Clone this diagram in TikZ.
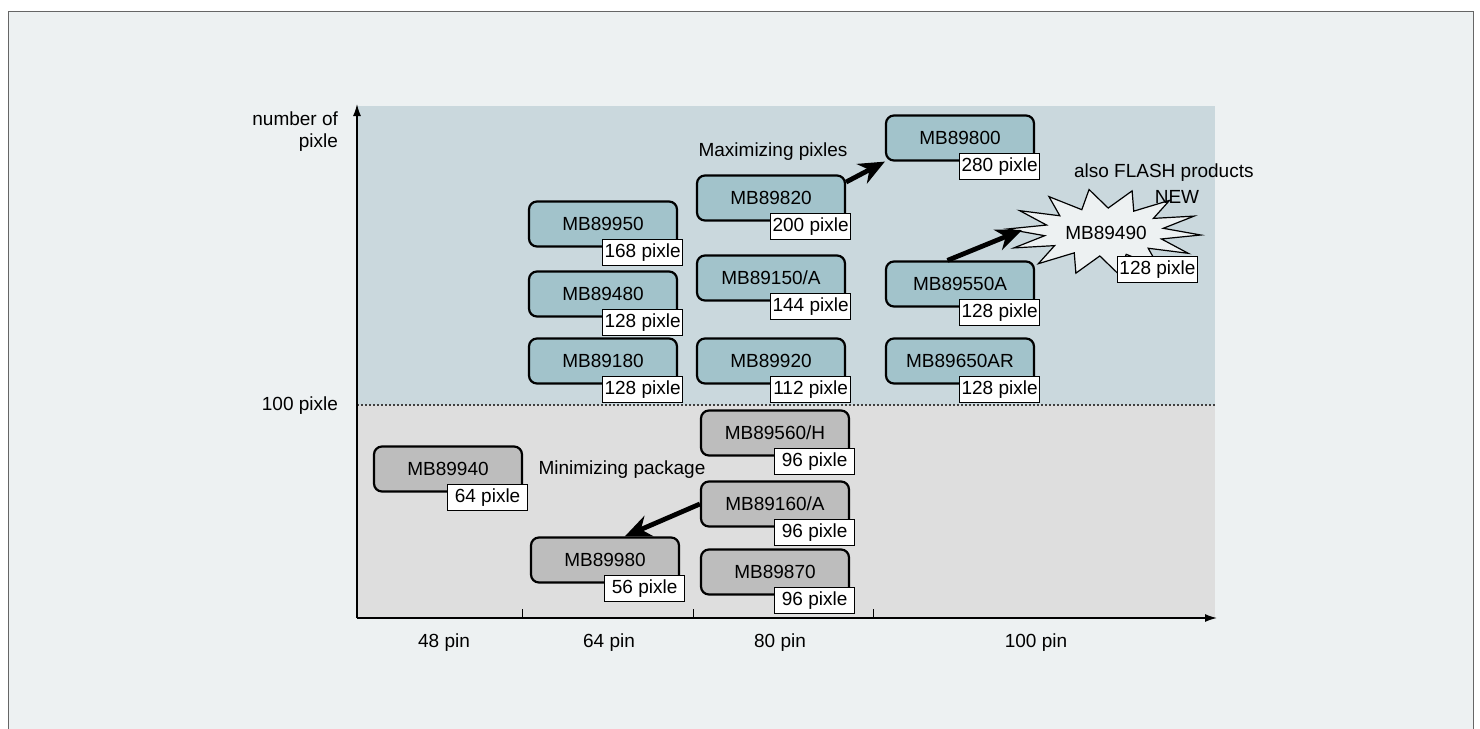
\documentclass[tikz,border=0pt]{standalone}
\usepackage{fontspec}
\setmainfont{Liberation Sans}
\usetikzlibrary{arrows.meta,positioning}

\definecolor{bgpale}{HTML}{EDF1F2}
\definecolor{bandblue}{HTML}{CAD8DD}
\definecolor{bandgrey}{HTML}{DEDEDE}
\definecolor{chipblue}{HTML}{A2C3CB}
\definecolor{chipgrey}{HTML}{BDBDBD}

\tikzset{
  chip/.style={draw,line width=1.1pt,rounded corners=4pt,fill=chipblue,minimum width=74pt,minimum height=22.5pt,inner sep=0pt},
  chipg/.style={chip,fill=chipgrey},
  pixtag/.style={draw,line width=0.5pt,fill=white,minimum width=40pt,minimum height=13pt,inner sep=0pt,anchor=north east,xshift=2.5pt,yshift=4.5pt},
  bigarrow/.style={line width=2.4pt,-{Stealth[length=13pt,width=11pt]}},
  axis/.style={line width=0.7pt,-{Latex[length=6pt,width=4pt]}}
}

\begin{document}
\begin{tikzpicture}[x=0.5pt,y=-0.5pt,font=\fontsize{9.5}{11}\selectfont]
  \useasboundingbox (0,0) rectangle (1480,729);
  % frame and bands
  \draw[gray!80!black,fill=bgpale] (8,740) -- (8,11) -- (1473,11) -- (1473,740);
  \fill[bandblue] (357,106) rectangle (1215,405);
  \fill[bandgrey] (357,405) rectangle (1215,618);
  \draw[black!75,line width=0.6pt,dash pattern=on 1pt off 1pt] (357,405) -- (1215,405);

  % axes
  \coordinate (o) at (357,618);
  \coordinate (ytip) at (357,104);
  \coordinate (xtip) at (1217,618);
  \draw[axis] (o) -- (ytip);
  \draw[axis] (o) -- (xtip);
  \foreach \tx in {522,693,873}
    \draw[line width=0.5pt] (\tx,618) -- (\tx,609);
  \foreach \lx/\pins in {444/48,609/64,780/80,1036/100}
    \node (pin\pins) at (\lx,643) {\pins~pin};
  \node[align=right,anchor=east] (ylab) at (345,132) {number of\\pixle};
  \node[anchor=east] (hundred) at (345,406) {100 pixle};

  % chips
  \foreach \id/\nm/\cx/\cy/\px/\st in
    {m9950/MB89950/603/224/168/chip, m9480/MB89480/603/294/128/chip,
     m9180/MB89180/603/361/128/chip, m9820/MB89820/771/198/200/chip,
     m9150/{MB89150/A}/771/278/144/chip, m9920/MB89920/771/361/112/chip,
     m9800/MB89800/960/138/280/chip, m9550/MB89550A/960/284/128/chip,
     m9650/MB89650AR/960/361/128/chip, m9940/MB89940/448/469/64/chipg,
     m9980/MB89980/605/560/56/chipg, m9560/{MB89560/H}/775/433/96/chipg,
     m9160/{MB89160/A}/775/504/96/chipg, m9870/MB89870/775/572/96/chipg}
  {
    \node[\st] (\id) at (\cx,\cy) {\nm};
    \node[pixtag] (\id t) at (\id.south east) {\px~pixle};
  }

  % new product burst
  \draw[line width=0.6pt,fill=bgpale,shift={(1104,232)}]
    plot[samples=29,domain=0:28,variable=\k]
      ({(97-37*mod(\k,2))*cos(\k*360/28+4)},{(43-19*mod(\k,2))*sin(\k*360/28+4)}) -- cycle;
  \node (burst) at (1106,233) {MB89490};
  \coordinate (burst tip) at (1022,230);
  \node[pixtag,xshift=44.5pt,yshift=-16.5pt] (burst t) at (1104,232) {128 pixle};

  % remarks
  \node (maxi) at (773,152) {Maximizing pixles};
  \node (mini) at (622,470) {Minimizing package};
  \node[anchor=west] (flash) at (1067,173) {also FLASH products};
  \node (new) at (1177,197) {NEW};

  \draw[bigarrow] (m9820.12) -- (m9800.south west);
  \draw[bigarrow] (m9550.118) -- (burst tip);
  \draw[bigarrow] (m9160.west) -- (m9980.50);
\end{tikzpicture}
\end{document}
